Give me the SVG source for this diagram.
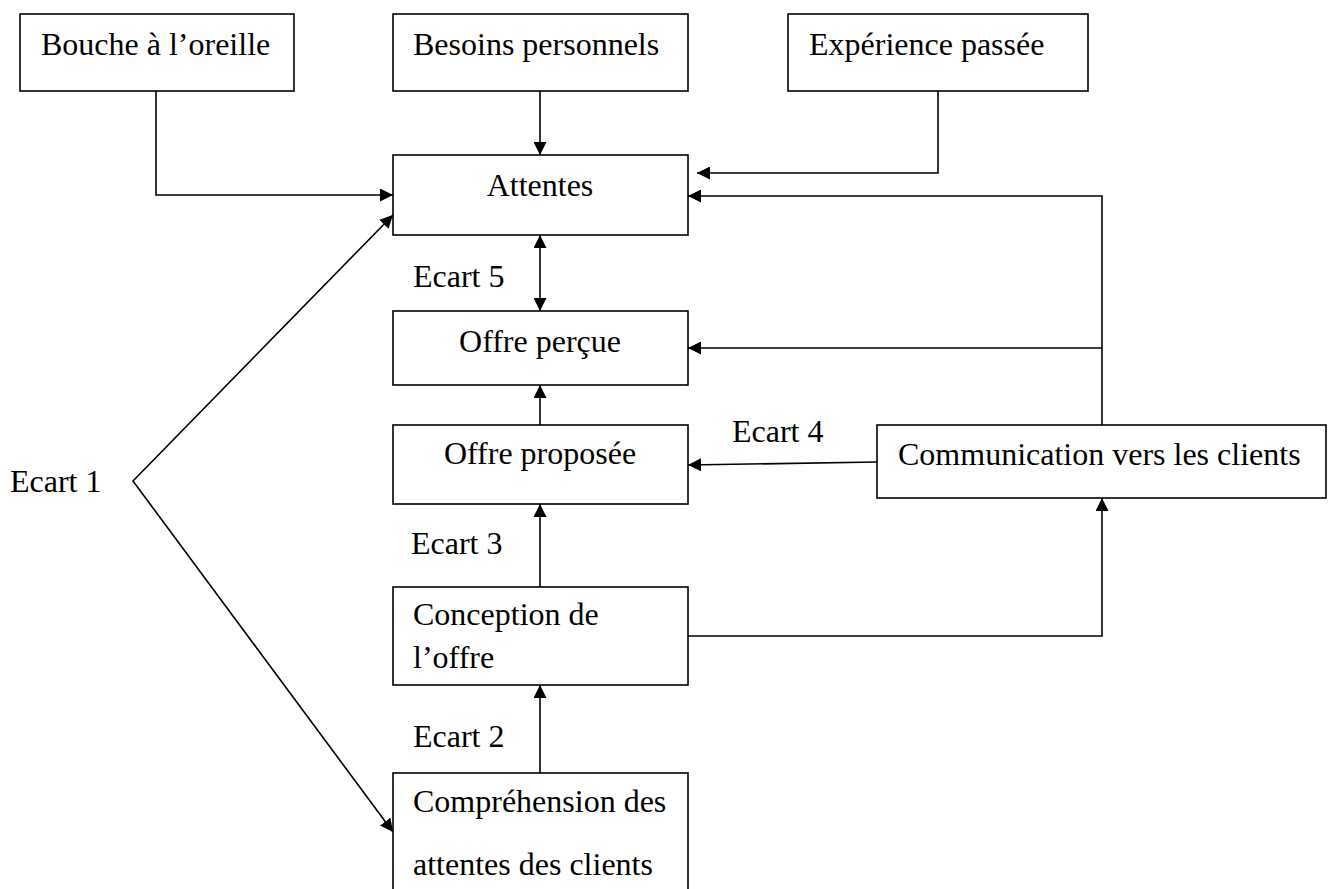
<svg xmlns="http://www.w3.org/2000/svg" width="1331" height="889" viewBox="0 0 1331 889">
  <style>
    .box { fill: #ffffff; stroke: #000000; stroke-width: 1.6; }
    .lbl { font-family: "Liberation Serif", "Times New Roman", serif; font-size: 32px; fill: #000000; }
    .mid { text-anchor: middle; }
    .conn { fill: none; stroke: #000000; stroke-width: 1.6; }
    .arr { marker-end: url(#ah); }
    .arr2 { marker-start: url(#ah); marker-end: url(#ah); }
  </style>
  <defs>
    <marker id="ah" markerUnits="userSpaceOnUse" markerWidth="14" markerHeight="13" refX="13" refY="6.5" orient="auto-start-reverse" viewBox="0 0 14 13">
      <path d="M0,0 L13,6.5 L0,13 Z" fill="#000000"/>
    </marker>
  </defs>
  <rect width="1331" height="889" fill="#ffffff"/>

  <g id="connectors">
    <path class="conn arr" d="M156,91 V195 H393"/>
    <path class="conn arr" d="M540,91 V155"/>
    <path class="conn arr" d="M938,91 V173 H697"/>
    <path class="conn arr" d="M1102,425 V196 H688"/>
    <path class="conn arr" d="M1102,348 H688"/>
    <path class="conn arr" d="M877,462 L688,465"/>
    <path class="conn arr" d="M688,636 H1102 V498"/>
    <path class="conn arr" d="M540,425 V385"/>
    <path class="conn arr" d="M540,587 V504"/>
    <path class="conn arr" d="M540,773 V685"/>
    <path class="conn arr2" d="M540,235 V311"/>
    <path class="conn arr2" d="M393,215 L133,481 L393,832"/>
  </g>

  <g id="bouche">
    <rect class="box" x="20" y="14" width="274" height="77"/>
    <text class="lbl" x="41" y="55">Bouche à l’oreille</text>
  </g>
  <g id="besoins">
    <rect class="box" x="393" y="14" width="295" height="77"/>
    <text class="lbl" x="413" y="55">Besoins personnels</text>
  </g>
  <g id="experience">
    <rect class="box" x="788" y="14" width="300" height="77"/>
    <text class="lbl" x="809" y="55">Expérience passée</text>
  </g>
  <g id="attentes">
    <rect class="box" x="393" y="155" width="295" height="80"/>
    <text class="lbl mid" x="540" y="196">Attentes</text>
  </g>
  <g id="offre-percue">
    <rect class="box" x="393" y="311" width="295" height="74"/>
    <text class="lbl mid" x="540" y="352">Offre perçue</text>
  </g>
  <g id="offre-proposee">
    <rect class="box" x="393" y="425" width="295" height="79"/>
    <text class="lbl mid" x="540" y="464">Offre proposée</text>
  </g>
  <g id="communication">
    <rect class="box" x="877" y="425" width="449" height="73"/>
    <text class="lbl" x="898" y="465">Communication vers les clients</text>
  </g>
  <g id="conception">
    <rect class="box" x="393" y="587" width="295" height="98"/>
    <text class="lbl" x="413" y="625">Conception de</text>
    <text class="lbl" x="413" y="668">l’offre</text>
  </g>
  <g id="comprehension">
    <rect class="box" x="393" y="773" width="295" height="130"/>
    <text class="lbl" x="413" y="812">Compréhension des</text>
    <text class="lbl" x="413" y="875">attentes des clients</text>
  </g>

  <g id="labels">
    <text class="lbl" x="413" y="287">Ecart 5</text>
    <text class="lbl" x="732" y="442">Ecart 4</text>
    <text class="lbl" x="411" y="554">Ecart 3</text>
    <text class="lbl" x="413" y="747">Ecart 2</text>
    <text class="lbl" x="10" y="492">Ecart 1</text>
  </g>
</svg>
